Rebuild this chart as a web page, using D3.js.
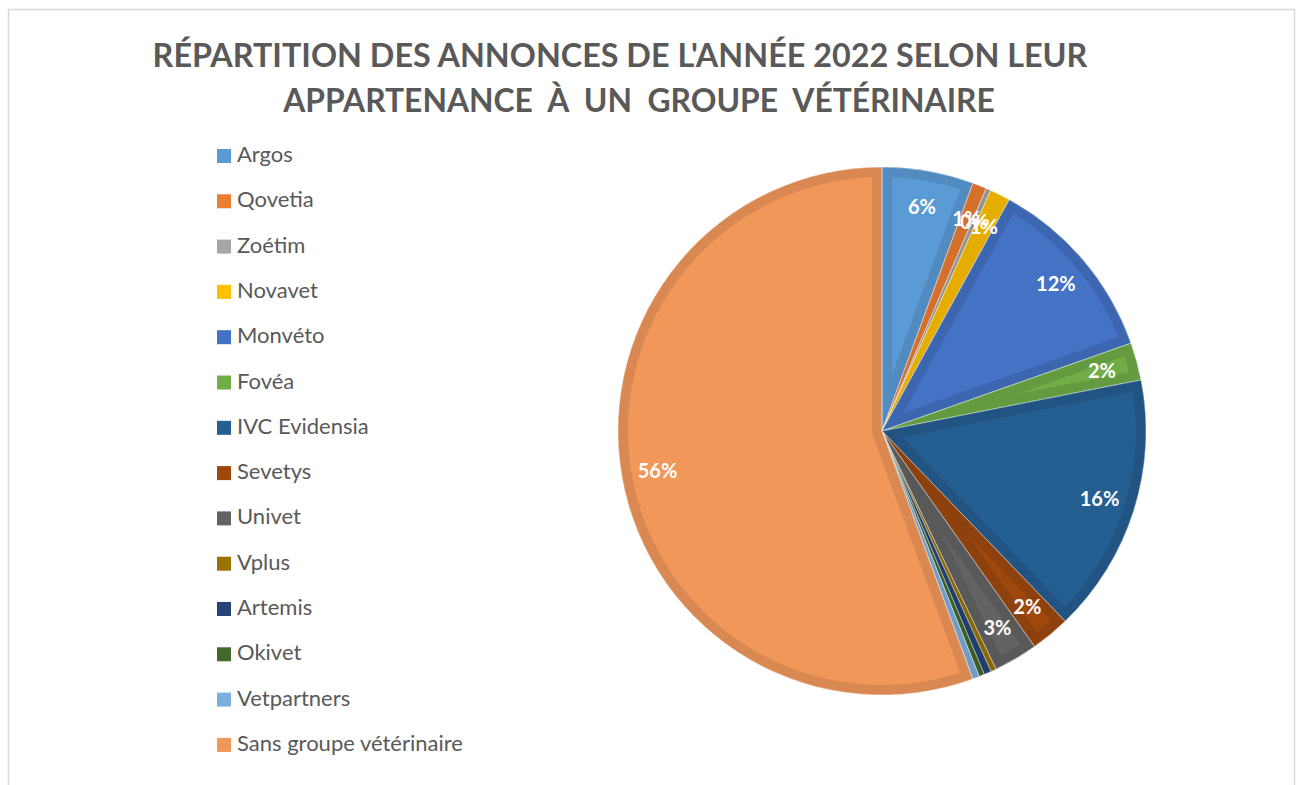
<!DOCTYPE html>
<html>
<head>
<script src="https://cdn.jsdelivr.net/npm/d3@7"></script>
  <meta charset="utf-8">
  <title>Répartition des annonces 2022</title>
  <style>
    body { margin: 0; background: #fff; }
    svg { display: block; }
    text { font-family: Lato, "Open Sans", sans-serif; }
  </style>
</head>
<body>
  <div id="chartArea"></div>
  <script>
  // shares of the 2022 ads, in percent
  var categories = ['Argos', 'Qovetia', 'Zoétim', 'Novavet', 'Monvéto', 'Fovéa',
    'IVC Evidensia', 'Sevetys', 'Univet', 'Vplus', 'Artemis', 'Okivet',
    'Vetpartners', 'Sans groupe vétérinaire'];
  var values = [5.6, 0.86, 0.3, 1.25, 11.6, 2.3, 15.9, 2.4, 2.7, 0.33, 0.44, 0.33, 0.42, 55.6];
  var colors = ['#5b9bd5', '#ed7d31', '#a5a5a5', '#ffc000', '#4472c4', '#70ad47',
    '#255e91', '#9e480e', '#636363', '#997300', '#264478', '#43682b',
    '#7cafdd', '#f1975a'];
  // the four thin slices at the bottom carry no visible label
  var unlabelled = ['Vplus', 'Artemis', 'Okivet', 'Vetpartners'];
  var titleLines = ["RÉPARTITION DES ANNONCES DE L'ANNÉE 2022 SELON LEUR",
    'APPARTENANCE  À  UN  GROUPE  VÉTÉRINAIRE'];

  var chartConfig = {
    width: 1301,
    height: 785,
    cx: 882,
    cy: 431,
    radius: 264,
    labelRadius: 228,
    legendX: 217,
    legendY: 149,
    legendStep: 45.3
  };

  var data = categories.map(function(c, i) {
    return { label: c, value: values[i], color: colors[i] };
  });
  var total = d3.sum(values);

  var svg = d3.select('#chartArea')
    .append('svg')
    .attr('width', chartConfig.width)
    .attr('height', chartConfig.height);

  // chart frame
  svg.append('rect')
    .attr('x', 8.5).attr('y', 9.5)
    .attr('width', 1286).attr('height', 800)
    .attr('fill', 'none')
    .attr('stroke', '#d9d9d9')
    .attr('stroke-width', 1.5);

  // title, each line sized to the width it has in the original
  var titleWidths = [935, 712];
  svg.append('g').selectAll('text')
    .data(titleLines)
    .enter().append('text')
    .attr('x', function(d, i) { return i ? 639 : 620; })
    .attr('y', function(d, i) { return 67 + i * 45; })
    .attr('text-anchor', 'middle')
    .attr('xml:space', 'preserve')
    .style('white-space', 'pre')
    .attr('font-size', 31)
    .attr('font-weight', 700)
    .attr('fill', '#595959')
    .text(function(d) { return d; })
    .each(function(d, i) {
      var w = this.getComputedTextLength();
      if (w > 0) d3.select(this).attr('font-size', 31 * titleWidths[i] / w);
    });

  // pie
  var pie = d3.pie().sort(null).value(function(d) { return d.value; });
  var arc = d3.arc().innerRadius(0).outerRadius(chartConfig.radius);
  var labelArc = d3.arc().innerRadius(chartConfig.labelRadius).outerRadius(chartConfig.labelRadius);
  var arcs = pie(data);

  var defs = svg.append('defs');
  defs.selectAll('clipPath')
    .data(arcs)
    .enter().append('clipPath')
    .attr('id', function(d, i) { return 'clip' + i; })
    .append('path')
    .attr('d', arc);

  var pieG = svg.append('g')
    .attr('transform', 'translate(' + chartConfig.cx + ',' + chartConfig.cy + ')');

  var slices = pieG.selectAll('g.slice')
    .data(arcs)
    .enter().append('g')
    .attr('class', 'slice');

  slices.append('path')
    .attr('d', arc)
    .attr('fill', function(d) { return d.data.color; });

  // darker inner band along each slice edge (bevel look)
  slices.append('path')
    .attr('d', arc)
    .attr('fill', 'none')
    .attr('clip-path', function(d, i) { return 'url(#clip' + i + ')'; })
    .attr('stroke', function(d) { return d3.color(d.data.color).darker(0.3); })
    .attr('stroke-width', 20)
    .attr('stroke-linejoin', 'round');

  slices.append('path')
    .attr('d', arc)
    .attr('fill', 'none')
    .attr('stroke', '#fff')
    .attr('stroke-width', 0.8)
    .attr('stroke-opacity', 0.6);

  pieG.selectAll('text.pct')
    .data(arcs.filter(function(d) { return unlabelled.indexOf(d.data.label) < 0; }))
    .enter().append('text')
    .attr('class', 'pct')
    .attr('transform', function(d) { return 'translate(' + labelArc.centroid(d) + ')'; })
    .attr('text-anchor', 'middle')
    .attr('dy', '0.35em')
    .attr('font-size', 20)
    .attr('font-weight', 700)
    .attr('fill', '#fff')
    .text(function(d) { return Math.round(d.data.value / total * 100) + '%'; });

  // legend
  var legend = svg.append('g').selectAll('g')
    .data(data)
    .enter().append('g')
    .attr('transform', function(d, i) {
      return 'translate(' + chartConfig.legendX + ',' + (chartConfig.legendY + i * chartConfig.legendStep) + ')';
    });
  legend.append('rect')
    .attr('width', 14).attr('height', 14)
    .attr('fill', function(d) { return d.color; });
  legend.append('text')
    .attr('x', 20).attr('y', 13)
    .attr('font-size', 22)
    .attr('fill', '#595959')
    .text(function(d) { return d.label; });
  </script>
</body>
</html>
